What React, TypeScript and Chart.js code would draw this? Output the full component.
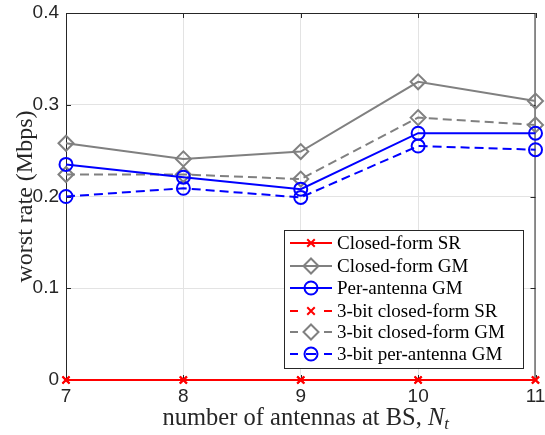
import React, { useEffect, useRef } from 'react';
import { Chart, registerables } from 'chart.js';

Chart.register(...registerables);

const antennas = [7, 8, 9, 10, 11];
const closedFormSR = [0, 0, 0, 0, 0];
const closedFormGM = [0.258, 0.241, 0.249, 0.325, 0.304];
const perAntennaGM = [0.235, 0.221, 0.208, 0.269, 0.269];
const bit3ClosedFormSR = [0, 0, 0, 0, 0];
const bit3ClosedFormGM = [0.224, 0.224, 0.219, 0.286, 0.278];
const bit3PerAntennaGM = [0.2, 0.209, 0.199, 0.255, 0.251];
const xTicks = [7, 8, 9, 10, 11];
const yTicks = [0, 0.1, 0.2, 0.3, 0.4];
const labels = [
  'Closed-form SR',
  'Closed-form GM',
  'Per-antenna GM',
  '3-bit closed-form SR',
  '3-bit closed-form GM',
  '3-bit per-antenna GM',
];

const RED = '#ff0000';
const GRAY = '#808080';
const BLUE = '#0000ff';
const AXIS = '#262626';
const SERIF = '"Liberation Serif", "DejaVu Serif", serif';
const SANS = '"Liberation Sans", Arial, sans-serif';

function toPts(vals: number[]) {
  return antennas.map((x, i) => ({ x, y: vals[i] }));
}

function drawMarker(ctx: CanvasRenderingContext2D, style: string, x: number, y: number, r: number) {
  ctx.beginPath();
  if (style === 'circle') {
    ctx.arc(x, y, r, 0, Math.PI * 2);
  } else if (style === 'rectRot') {
    ctx.moveTo(x, y - r);
    ctx.lineTo(x + r, y);
    ctx.lineTo(x, y + r);
    ctx.lineTo(x - r, y);
    ctx.closePath();
  } else {
    ctx.moveTo(x - r * 0.75, y - r * 0.75);
    ctx.lineTo(x + r * 0.75, y + r * 0.75);
    ctx.moveTo(x + r * 0.75, y - r * 0.75);
    ctx.lineTo(x - r * 0.75, y + r * 0.75);
  }
  ctx.stroke();
}

const framePlugin = {
  id: 'frame',
  beforeDatasetsDraw(chart: any) {
    const { ctx, chartArea: a, scales } = chart;
    ctx.save();
    ctx.strokeStyle = AXIS;
    ctx.lineWidth = 1;
    ctx.strokeRect(a.left + 0.5, a.top + 0.5, a.right - a.left - 1, a.bottom - a.top - 1);
    ctx.beginPath();
    yTicks.forEach((v) => {
      const py = Math.round(scales.y.getPixelForValue(v)) + 0.5;
      ctx.moveTo(a.left, py);
      ctx.lineTo(a.left + 5, py);
      ctx.moveTo(a.right, py);
      ctx.lineTo(a.right - 5, py);
    });
    xTicks.forEach((v) => {
      const px = Math.round(scales.x.getPixelForValue(v)) + 0.5;
      ctx.moveTo(px, a.bottom);
      ctx.lineTo(px, a.bottom - 5);
      ctx.moveTo(px, a.top);
      ctx.lineTo(px, a.top + 5);
    });
    ctx.stroke();
    ctx.restore();
  },
  afterDraw(chart: any) {
    const { ctx, chartArea: a } = chart;
    ctx.save();
    // x axis title
    ctx.fillStyle = AXIS;
    ctx.textBaseline = 'alphabetic';
    const main = 'number of antennas at BS, ';
    const fs = 24.5;
    ctx.font = `${fs}px ${SERIF}`;
    const wMain = ctx.measureText(main).width;
    ctx.font = `italic ${fs}px ${SERIF}`;
    const wN = ctx.measureText('N').width;
    ctx.font = `italic 17px ${SERIF}`;
    const wT = ctx.measureText('t').width;
    const total = wMain + wN + wT;
    const cx = (a.left + a.right) / 2 + 5;
    let sx = cx - total / 2;
    const base = 425;
    ctx.textAlign = 'left';
    ctx.font = `${fs}px ${SERIF}`;
    ctx.fillText(main, sx, base);
    sx += wMain;
    ctx.font = `italic ${fs}px ${SERIF}`;
    ctx.fillText('N', sx, base);
    sx += wN;
    ctx.font = `italic 17px ${SERIF}`;
    ctx.fillText('t', sx, base + 4);

    // y axis title
    ctx.save();
    ctx.translate(32, (a.top + a.bottom) / 2);
    ctx.rotate(-Math.PI / 2);
    ctx.font = `24px ${SERIF}`;
    ctx.textAlign = 'center';
    ctx.textBaseline = 'alphabetic';
    ctx.fillText('worst rate (Mbps)', 0, 0);
    ctx.restore();

    // legend
    const bx = 284, by = 230, bw = 239, bh = 138;
    ctx.fillStyle = '#ffffff';
    ctx.fillRect(bx, by, bw, bh);
    ctx.strokeStyle = AXIS;
    ctx.lineWidth = 1;
    ctx.strokeRect(bx + 0.5, by + 0.5, bw, bh);
    const rows = [243, 266, 288, 311, 332, 354];
    chart.data.datasets.forEach((ds: any, i: number) => {
      const y = rows[i];
      ctx.strokeStyle = ds.borderColor;
      ctx.lineWidth = 2;
      ctx.setLineDash([]);
      ctx.beginPath();
      if (ds.borderDash && ds.borderDash.length) {
        ctx.moveTo(290, y);
        ctx.lineTo(298, y);
        ctx.moveTo(324, y);
        ctx.lineTo(332, y);
        if (ds.pointStyle === 'circle') {
          ctx.moveTo(306, y);
          ctx.lineTo(316, y);
        }
      } else {
        ctx.moveTo(290, y);
        ctx.lineTo(332, y);
      }
      ctx.stroke();
      ctx.lineWidth = ds.pointBorderWidth;
      drawMarker(ctx, ds.pointStyle, 311, y, ds.pointRadius);
      ctx.fillStyle = '#000000';
      ctx.font = `19px ${SERIF}`;
      ctx.textAlign = 'left';
      ctx.textBaseline = 'middle';
      ctx.fillText(ds.label, 337, y + 1);
    });
    ctx.restore();
  },
};

export default function App() {
  const ref = useRef<HTMLCanvasElement | null>(null);
  useEffect(() => {
    document.body.style.margin = '0';
    const mk = (i: number, vals: number[], color: string, dashed: boolean, style: string, r: number) => ({
      label: labels[i],
      data: toPts(vals),
      borderColor: color,
      backgroundColor: 'transparent',
      borderWidth: 2,
      borderDash: dashed ? [9, 5] : [],
      pointStyle: style,
      pointRadius: r,
      pointHoverRadius: r,
      pointBorderColor: color,
      pointBackgroundColor: 'transparent',
      pointBorderWidth: 2,
      fill: false,
      tension: 0,
      clip: false as any,
    });
    const chart = new Chart(ref.current as HTMLCanvasElement, {
      type: 'line',
      data: {
        datasets: [
          mk(0, closedFormSR, RED, false, 'crossRot', 5),
          mk(1, closedFormGM, GRAY, false, 'rectRot', 7.5),
          mk(2, perAntennaGM, BLUE, false, 'circle', 6.5),
          mk(3, bit3ClosedFormSR, RED, true, 'crossRot', 5),
          mk(4, bit3ClosedFormGM, GRAY, true, 'rectRot', 7.5),
          mk(5, bit3PerAntennaGM, BLUE, true, 'circle', 6.5),
        ] as any,
      },
      options: {
        animation: false,
        responsive: false,
        maintainAspectRatio: false,
        layout: { padding: { top: 13, right: 9, left: 0, bottom: 0 } },
        plugins: { legend: { display: false }, tooltip: { enabled: false } },
        scales: {
          x: {
            type: 'linear',
            min: 7,
            max: 11,
            afterBuildTicks: (s: any) => {
              s.ticks = xTicks.map((v) => ({ value: v }));
            },
            ticks: {
              color: AXIS,
              font: { family: SANS, size: 19 },
              padding: 5,
              maxRotation: 0,
              callback: (v: any) => String(v),
            },
            grid: { color: '#e3e3e3', drawTicks: false },
            border: { display: false },
            afterFit: (s: any) => {
              s.height = 55;
              s.paddingLeft = 0;
              s.paddingRight = 0;
            },
          },
          y: {
            min: 0,
            max: 0.4,
            afterBuildTicks: (s: any) => {
              s.ticks = yTicks.map((v) => ({ value: v }));
            },
            ticks: {
              color: AXIS,
              font: { family: SANS, size: 19 },
              padding: 7,
              callback: (v: any) => (Number(v) === 0 ? '0' : Number(v).toFixed(1)),
            },
            grid: { color: '#e3e3e3', drawTicks: false },
            border: { display: false },
            afterFit: (s: any) => {
              s.width = 66;
              s.paddingTop = 0;
              s.paddingBottom = 0;
            },
          },
        },
      },
      plugins: [framePlugin],
    });
    return () => chart.destroy();
  }, []);
  return <canvas ref={ref} width={545} height={435} style={{ display: 'block' }} />;
}
